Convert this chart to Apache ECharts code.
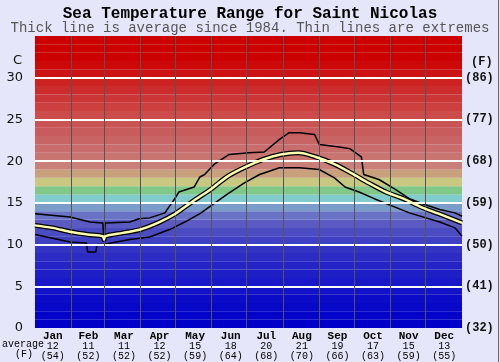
<!DOCTYPE html>
<html>
<head>
<meta charset="utf-8">
<script src="https://cdn.jsdelivr.net/npm/echarts@6/dist/echarts.min.js"></script>
<style>
html,body{margin:0;padding:0;background:#e6e6fa;}
#chart{width:500px;height:362px;}
</style>
</head>
<body>
<div id="chart"></div>
<script>
// ---- data ----
const months = ['Jan','Feb','Mar','Apr','May','Jun','Jul','Aug','Sep','Oct','Nov','Dec'];
const monthAvgC = [12,11,11,12,15,18,20,21,19,17,15,13];
const monthAvgF = [54,52,52,52,59,64,68,70,66,63,59,55];
const yTicksC = [0,5,10,15,20,25,30];
const yTicksF = ['(32)','(41)','(50)','(59)','(68)','(77)','(86)'];
const monthStartDays = [31,59,90,120,151,181,212,243,273,304,334];

const avgDays  = [0,15,31,45,58,59,60,75,90,105,120,135,150,165,180,195,210,225,240,255,270,285,300,315,330,345,365];
const avgTemps = [12.3,12.0,11.5,11.2,11.0,10.6,11.0,11.4,11.8,12.6,13.7,15.2,16.6,18.2,19.3,20.2,20.8,21.0,20.5,19.7,18.6,17.4,16.3,15.5,14.5,13.7,12.6];

const maxDays  = [0,30,47,58,59,60,81,89,98,111,119,123,136,141,145,153,166,183,196,209,217,226,239,243,260,269,279,281,294,307,320,333,346,359,365];
const maxTemps = [13.7,13.3,12.7,12.6,10.3,12.6,12.7,13.1,13.2,13.8,15.4,16.3,16.9,18.1,18.4,19.6,20.8,21.0,21.1,22.6,23.4,23.4,23.2,22.0,21.7,21.5,20.5,18.4,17.8,16.7,15.5,14.8,14.2,13.8,13.4];

const minDays  = [0,30,44,45,52,53,58,81,98,115,128,141,153,165,179,192,209,226,243,256,265,277,290,320,346,359,365];
const minTemps = [11.2,10.3,10.2,9.1,9.1,10.0,10.0,10.6,10.9,11.8,12.7,13.7,14.9,16.1,17.4,18.4,19.2,19.2,19.0,18.0,16.9,16.3,15.5,13.8,12.7,12.0,11.0];

// ---- styling ----
const bandColors = [
 '#0000c8','#0404c8','#0808c8','#0c0cc8','#1212c8','#1818c8','#1e1ec6','#2424c6','#2c2cc4','#3434c4',
 '#4040c4','#4c4cc2','#5a5ac2','#6a72c6','#7a9cc8','#80cccc','#80c888','#c8c880','#c8a07c','#c88078',
 '#c87470','#c86c6c','#c86464','#c85c5c','#c85454','#cc4c4c','#cc4040','#cc3636','#cc2c2c','#cc2222',
 '#cc1414','#cc0808','#cc0000','#cc0000','#cc0000'
];
const zip = (a,b) => a.map((v,i)=>[v,b[i]]);

const chart = echarts.init(document.getElementById('chart'), null, {renderer:'canvas'});
const option = {
  animation:false,
  backgroundColor:'#e6e6fa',
  title:[
    {text:'Sea Temperature Range for Saint Nicolas', left:'center', top:1,
     textStyle:{fontFamily:'Liberation Mono', fontWeight:'bold', fontSize:16, color:'#000'}},
    {text:'Thick line is average since 1984. Thin lines are extremes', left:'center', top:16,
     textStyle:{fontFamily:'Liberation Mono', fontWeight:'normal', fontSize:14, color:'#555'}}
  ],
  grid:{left:35, right:38, top:36, bottom:34},
  xAxis:[
    {type:'value', min:0, max:365, show:false},
    {type:'category', data:months, position:'bottom', boundaryGap:true,
     axisLine:{show:false}, axisTick:{show:false}, splitLine:{show:false},
     axisLabel:{margin:3, interval:0,
       formatter:(v,i)=>'{m|'+v+'}\n{v|'+monthAvgC[i]+'}\n{v|('+monthAvgF[i]+')}',
       rich:{
         m:{fontFamily:'Liberation Mono', fontWeight:'bold', fontSize:11, lineHeight:10, color:'#000'},
         v:{fontFamily:'Liberation Mono', fontSize:10, lineHeight:10, color:'#000'}
       }}}
  ],
  yAxis:[
    {type:'value', min:0, max:35, interval:5, position:'left',
     axisLine:{show:false}, axisTick:{show:false}, splitLine:{show:false},
     axisLabel:{margin:12, fontFamily:'DejaVu Sans', fontSize:13, color:'#111',
       formatter:v=> yTicksC.indexOf(v)>=0 ? String(v) : ''}},
    {type:'value', min:0, max:35, interval:5, position:'right',
     axisLine:{show:false}, axisTick:{show:false}, splitLine:{show:false},
     axisLabel:{margin:3, fontFamily:'Liberation Mono', fontWeight:'bold', fontSize:12, color:'#111',
       formatter:v=>{const i=yTicksC.indexOf(v); return i>=0 ? yTicksF[i] : '';}}}
  ],
  graphic:[
    {type:'text', left:13, top:54, style:{text:'C', font:'13px "DejaVu Sans"', fill:'#111'}},
    {type:'text', left:471, top:56, style:{text:'(F)', font:'bold 12px "Liberation Mono"', fill:'#111'}},
    {type:'text', left:2, top:339, style:{text:'average', font:'10px "Liberation Mono"', fill:'#000'}},
    {type:'text', left:15, top:349, style:{text:'(F)', font:'10px "Liberation Mono"', fill:'#000'}},
    {type:'line', shape:{x1:498.5, y1:0, x2:498.5, y2:362}, style:{stroke:'#666', lineWidth:1}}
  ],
  series:[
    {type:'line', data:[], xAxisIndex:0, yAxisIndex:0, z:1, silent:true,
     markArea:{silent:true, label:{show:false},
       data: bandColors.map((c,i)=>[{xAxis:0, yAxis:i, itemStyle:{color:c}},{xAxis:365, yAxis:i+1}])}},
    {type:'line', data:[], xAxisIndex:0, yAxisIndex:0, z:2, silent:true,
     markLine:{silent:true, symbol:['none','none'], label:{show:false}, animation:false,
       data: [
         ...yTicksC.filter(v=>v>0).map(v=>({yAxis:v, lineStyle:{color:'#ffffff', width:2, type:'solid'}})),
         ...monthStartDays.map(d=>({xAxis:d, lineStyle:{color:'#555555', width:1, type:'solid'}}))
       ]}},
    {type:'line', name:'max', data:zip(maxDays,maxTemps), xAxisIndex:0, yAxisIndex:0, z:3,
     symbol:'none', lineStyle:{color:'#000', width:1.5}},
    {type:'line', name:'min', data:zip(minDays,minTemps), xAxisIndex:0, yAxisIndex:0, z:3,
     symbol:'none', lineStyle:{color:'#000', width:1.5}},
    {type:'line', name:'avgOutline', data:zip(avgDays,avgTemps), xAxisIndex:0, yAxisIndex:0, z:4,
     symbol:'none', smooth:0.3, lineStyle:{color:'#000', width:5}},
    {type:'line', name:'avg', data:zip(avgDays,avgTemps), xAxisIndex:0, yAxisIndex:0, z:5,
     symbol:'none', smooth:0.3, lineStyle:{color:'#ffffb0', width:2.5}}
  ]
};
chart.setOption(option);
</script>
</body>
</html>
